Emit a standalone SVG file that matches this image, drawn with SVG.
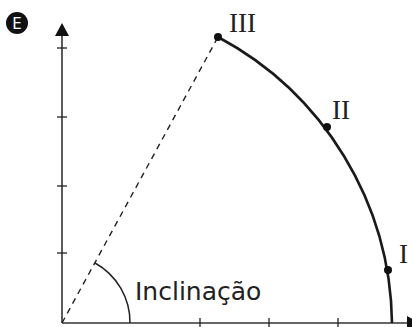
<svg xmlns="http://www.w3.org/2000/svg" width="412" height="327" viewBox="0 0 412 327">
<style>
.axis{stroke:#333;stroke-width:1.6;fill:none}
.tick{stroke:#222;stroke-width:1.3}
.curve{stroke:#1a1a1a;stroke-width:2.6;fill:none}
.rom{font-family:"Liberation Serif",serif;font-size:27px;fill:#222}
.lbl{font-family:"DejaVu Sans",sans-serif;font-size:25px;fill:#222}
</style>
<rect width="412" height="327" fill="#fff"/>
<g id="badge">
<circle cx="17" cy="23" r="11" fill="#111"/>
<text x="17" y="28.5" text-anchor="middle" font-family="DejaVu Sans,sans-serif" font-size="15" fill="#fff">E</text>
</g>
<g id="axes">
<line class="axis" x1="62" y1="323" x2="62" y2="33"/>
<polygon points="62,23 55,36 69,36" fill="#111"/>
<line class="axis" x1="62" y1="323" x2="410" y2="323"/>
<polygon points="420,323 407,316 407,330" fill="#111"/>
<line class="tick" x1="57" y1="48" x2="67" y2="48"/>
<line class="tick" x1="57" y1="117" x2="67" y2="117"/>
<line class="tick" x1="57" y1="186" x2="67" y2="186"/>
<line class="tick" x1="57" y1="253" x2="67" y2="253"/>
<line class="tick" x1="200" y1="318" x2="200" y2="328"/>
<line class="tick" x1="269" y1="318" x2="269" y2="328"/>
<line class="tick" x1="338" y1="318" x2="338" y2="328"/>
</g>
<g id="connectors">
<line x1="62" y1="323" x2="218" y2="37" stroke="#222" stroke-width="1.4" stroke-dasharray="6,5"/>
<path class="curve" d="M218,37 A329,329 0 0 1 392,323"/>
<path d="M95,263 A68,68 0 0 1 130,323" fill="none" stroke="#222" stroke-width="1.5"/>
</g>
<g id="pointIII">
<circle cx="218" cy="37" r="4" fill="#111"/>
<text class="rom" x="229" y="32">III</text>
</g>
<g id="pointII">
<circle cx="327" cy="127" r="4" fill="#111"/>
<text class="rom" x="332" y="119">II</text>
</g>
<g id="pointI">
<circle cx="388" cy="270" r="4" fill="#111"/>
<text class="rom" x="399" y="263">I</text>
</g>
<g id="inclinacao">
<text class="lbl" x="135" y="300">Inclinação</text>
</g>
</svg>
